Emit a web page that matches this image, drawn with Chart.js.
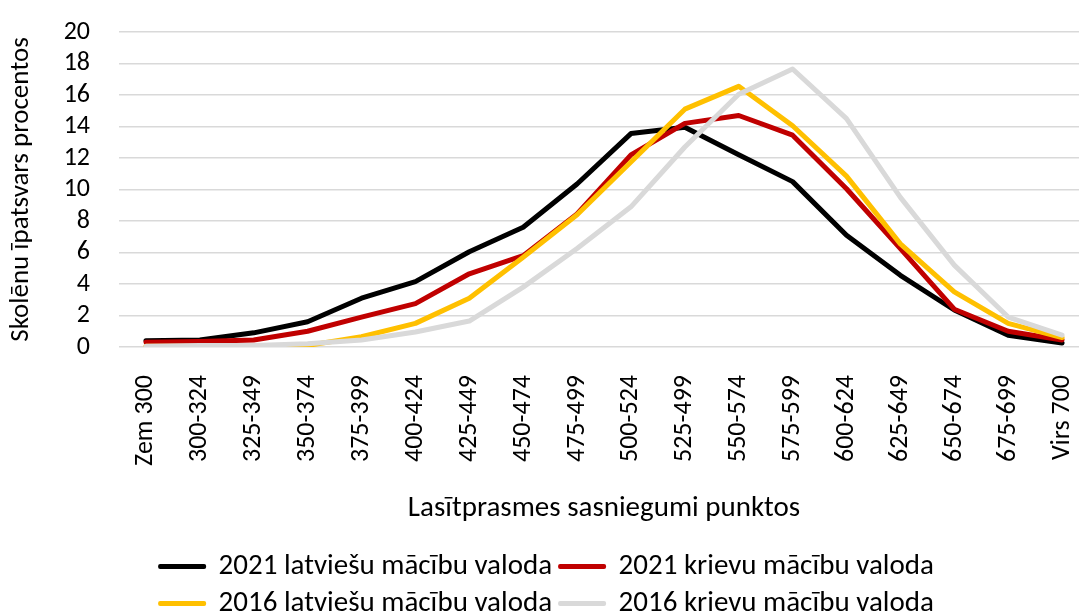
<!DOCTYPE html>
<html>
<head>
<meta charset="utf-8">
<script src="https://cdn.jsdelivr.net/npm/chart.js@4/dist/chart.umd.min.js"></script>
<style>
  html, body { margin: 0; padding: 0; background: #fff; overflow: hidden; }
  #wrap { position: relative; width: 1090px; height: 628px; }
</style>
</head>
<body>
<div id="wrap"><canvas id="c"></canvas></div>
<script>
const categories = ["Zem 300","300-324","325-349","350-374","375-399","400-424","425-449","450-474","475-499","500-524","525-499","550-574","575-599","600-624","625-649","650-674","675-699","Virs 700"];
const lv2021 = [0.4, 0.45, 0.9, 1.6, 3.1, 4.15, 6.05, 7.6, 10.35, 13.55, 13.95, 12.2, 10.5, 7.1, 4.55, 2.35, 0.75, 0.25];
const ru2021 = [0.3, 0.35, 0.45, 1.0, 1.9, 2.75, 4.65, 5.8, 8.45, 12.2, 14.2, 14.7, 13.45, 10.05, 6.25, 2.4, 1.0, 0.45];
const lv2016 = [0.05, 0.05, 0.05, 0.1, 0.65, 1.5, 3.1, 5.7, 8.4, 11.75, 15.1, 16.55, 14.05, 10.85, 6.55, 3.5, 1.5, 0.6];
const ru2016 = [0.05, 0.1, 0.1, 0.2, 0.45, 0.95, 1.65, 3.8, 6.25, 8.9, 12.7, 16.05, 17.65, 14.5, 9.5, 5.2, 1.9, 0.75];
const seriesNames = ["2021 latviešu mācību valoda","2021 krievu mācību valoda","2016 latviešu mācību valoda","2016 krievu mācību valoda"];
const yTitle = "Skolēnu īpatsvars procentos";
const xTitle = "Lasītprasmes sasniegumi punktos";

const FONT = "Carlito, Calibri, Lato, 'Open Sans', sans-serif";
const colors = ["#000000", "#C00000", "#FFC000", "#D9D9D9"];
const values = [lv2021, ru2021, lv2016, ru2016];

const datasets = values.map((v, i) => ({
  label: seriesNames[i],
  data: v,
  borderColor: colors[i],
  backgroundColor: colors[i],
  borderWidth: 5,
  pointRadius: 0,
  tension: 0,
  borderCapStyle: 'round',
  borderJoinStyle: 'round',
  order: 4 - i
}));

const PAD_LEFT = 5;

new Chart(document.getElementById('c'), {
  type: 'line',
  data: { labels: categories, datasets },
  options: {
    responsive: true,
    maintainAspectRatio: false,
    animation: false,
    layout: { padding: { top: 32, right: 1, bottom: 0, left: PAD_LEFT } },
    plugins: {
      tooltip: { enabled: false },
      legend: {
        position: 'bottom',
        labels: {
          font: { family: FONT, size: 29 },
          color: '#000',
          boxWidth: 44,
          boxHeight: 1,
          padding: 8,
          sort: (a, b) => a.datasetIndex - b.datasetIndex,
          generateLabels: (chart) => {
            const items = Chart.defaults.plugins.legend.labels.generateLabels(chart);
            items.forEach(it => { it.lineWidth = 4; it.lineJoin = 'round'; });
            return items;
          }
        }
      }
    },
    scales: {
      x: {
        offset: true,
        grid: { display: false },
        border: { display: false },
        afterFit: (s) => { s.height = 197; s.paddingLeft = 0; s.paddingRight = 0; s.paddingTop = 0; s.paddingBottom = 0; },
        ticks: {
          font: { family: FONT, size: 26 },
          color: '#000',
          minRotation: 90,
          maxRotation: 90,
          autoSkip: false,
          padding: 20
        },
        title: {
          display: true,
          text: xTitle,
          font: { family: FONT, size: 29 },
          color: '#000',
          padding: { top: 10, bottom: 18 }
        }
      },
      y: {
        min: 0,
        max: 20,
        afterFit: (s) => { s.width = 119 - PAD_LEFT; s.paddingTop = 0; s.paddingBottom = 0; },
        ticks: {
          stepSize: 2,
          autoSkip: false,
          font: { family: FONT, size: 26 },
          color: '#000',
          padding: 29
        },
        grid: { color: '#D9D9D9', lineWidth: 1.5, drawTicks: false },
        border: { display: false },
        title: {
          display: true,
          text: yTitle,
          font: { family: FONT, size: 27 },
          color: '#000',
          padding: { top: 0, bottom: 4 }
        }
      }
    }
  }
});
</script>
</body>
</html>
